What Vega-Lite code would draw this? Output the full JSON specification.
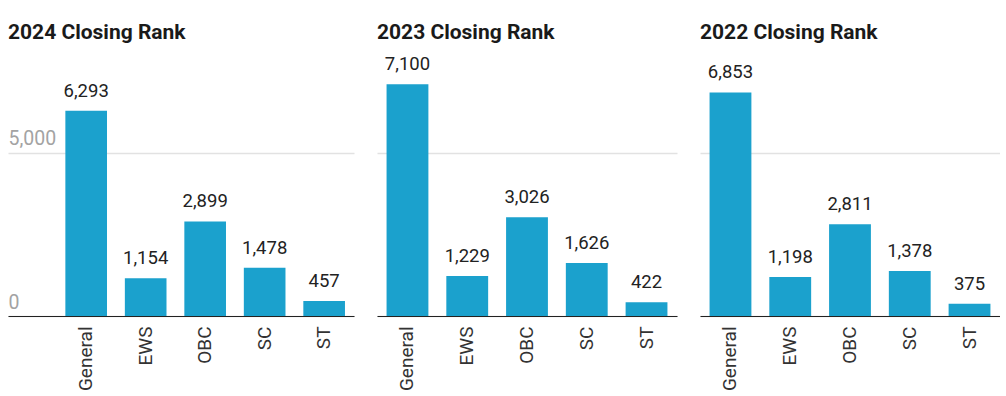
{
  "$schema": "https://vega.github.io/schema/vega-lite/v6.json",
  "background": "white",
  "padding": {"left": 8, "top": 22, "right": 0, "bottom": 0},
  "spacing": 23,
  "datasets": {
    "ranks": [
      {"year": "2024", "category": "General", "rank": 6293},
      {"year": "2024", "category": "EWS", "rank": 1154},
      {"year": "2024", "category": "OBC", "rank": 2899},
      {"year": "2024", "category": "SC", "rank": 1478},
      {"year": "2024", "category": "ST", "rank": 457},
      {"year": "2023", "category": "General", "rank": 7100},
      {"year": "2023", "category": "EWS", "rank": 1229},
      {"year": "2023", "category": "OBC", "rank": 3026},
      {"year": "2023", "category": "SC", "rank": 1626},
      {"year": "2023", "category": "ST", "rank": 422},
      {"year": "2022", "category": "General", "rank": 6853},
      {"year": "2022", "category": "EWS", "rank": 1198},
      {"year": "2022", "category": "OBC", "rank": 2811},
      {"year": "2022", "category": "SC", "rank": 1378},
      {"year": "2022", "category": "ST", "rank": 375}
    ]
  },
  "config": {
    "font": "Roboto",
    "view": {"stroke": null},
    "title": {"anchor": "start", "frame": "group", "font": "Roboto", "fontSize": 21, "fontWeight": "bold", "color": "#1a1a1a", "offset": 12},
    "axisX": {
      "labelAngle": -90, "labelFontSize": 19, "labelColor": "#333333", "labelPadding": 10,
      "ticks": false, "domainColor": "#222222", "domainWidth": 1.2, "title": null, "grid": false
    },
    "axisY": {
      "grid": true, "gridColor": "#e2e2e2", "gridWidth": 1.5,
      "ticks": false, "domain": false, "title": null,
      "labelAlign": "left", "labelBaseline": "alphabetic", "labelPadding": 0, "labelOffset": -8,
      "labelFontSize": 19.5, "labelColor": "#a3a3a3"
    }
  },
  "hconcat": [
    {
      "title": "2024 Closing Rank",
      "width": 346, "height": 261,
      "data": {"name": "ranks"},
      "transform": [{"filter": "datum.year === '2024'"}],
      "encoding": {
        "x": {"field": "category", "type": "nominal", "sort": null,
              "scale": {"paddingInner": 0.3, "paddingOuter": 0.558, "align": 0.864}},
        "y": {"field": "rank", "type": "quantitative", "scale": {"domain": [0, 8000], "nice": false},
              "axis": {"values": [0, 5000], "labelExpr": "format(datum.value, ',')"}}
      },
      "layer": [
        {"mark": {"type": "bar", "color": "#1ba1cd"}},
        {"mark": {"type": "text", "fontSize": 18.5, "color": "#222222", "baseline": "alphabetic", "dy": -14},
         "encoding": {"text": {"field": "rank", "type": "quantitative", "format": ","}}}
      ]
    },
    {
      "title": "2023 Closing Rank",
      "width": 300, "height": 261,
      "data": {"name": "ranks"},
      "transform": [{"filter": "datum.year === '2023'"}],
      "encoding": {
        "x": {"field": "category", "type": "nominal", "sort": null,
              "scale": {"paddingInner": 0.3, "paddingOuter": 0.16}},
        "y": {"field": "rank", "type": "quantitative", "scale": {"domain": [0, 8000], "nice": false},
              "axis": {"values": [0, 5000], "labels": false}}
      },
      "layer": [
        {"mark": {"type": "bar", "color": "#1ba1cd"}},
        {"mark": {"type": "text", "fontSize": 18.5, "color": "#222222", "baseline": "alphabetic", "dy": -14},
         "encoding": {"text": {"field": "rank", "type": "quantitative", "format": ","}}}
      ]
    },
    {
      "title": "2022 Closing Rank",
      "width": 300, "height": 261,
      "data": {"name": "ranks"},
      "transform": [{"filter": "datum.year === '2022'"}],
      "encoding": {
        "x": {"field": "category", "type": "nominal", "sort": null,
              "scale": {"paddingInner": 0.3, "paddingOuter": 0.16}},
        "y": {"field": "rank", "type": "quantitative", "scale": {"domain": [0, 8000], "nice": false},
              "axis": {"values": [0, 5000], "labels": false}}
      },
      "layer": [
        {"mark": {"type": "bar", "color": "#1ba1cd"}},
        {"mark": {"type": "text", "fontSize": 18.5, "color": "#222222", "baseline": "alphabetic", "dy": -14},
         "encoding": {"text": {"field": "rank", "type": "quantitative", "format": ","}}}
      ]
    }
  ]
}
